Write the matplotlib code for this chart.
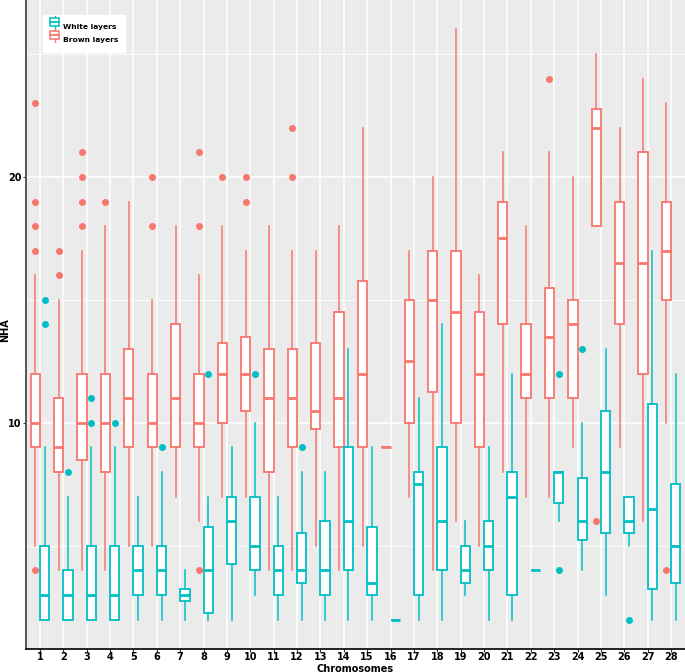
#!/usr/bin/env python3
"""NHA per chromosome for white and brown layers (boxplots, ggplot look)."""

import matplotlib
matplotlib.use("Agg")
import matplotlib.pyplot as plt
from matplotlib.legend_handler import HandlerBase
from matplotlib.lines import Line2D
from matplotlib.patches import Rectangle

CHROMS = list(range(1, 29))

# Brown layers
BROWN_LO = [5, 4, 4, 4, 5, 5, 7, 6, 7, 7, 4, 4, 5, 4, 5, 9, 7, 4, 6, 5, 8, 7, 7, 9, 18, 9, 6, 10]
BROWN_Q1 = [9, 8, 8.5, 8, 9, 9, 9, 9, 10, 10.5, 8, 9, 9.75, 9, 9, 9, 10, 11.25, 10, 9, 14, 11, 11, 11, 18, 14, 12, 15]
BROWN_MED = [10, 9, 10, 10, 11, 10, 11, 10, 12, 12, 11, 11, 10.5, 11, 12, 9, 12.5, 15, 14.5, 12, 17.5, 12, 13.5, 14, 22, 16.5, 16.5, 17]
BROWN_Q3 = [12, 11, 12, 12, 13, 12, 14, 12, 13.25, 13.5, 13, 13, 13.25, 14.5, 15.75, 9, 15, 17, 17, 14.5, 19, 14, 15.5, 15, 22.75, 19, 21, 19]
BROWN_HI = [16, 15, 17, 18, 19, 15, 18, 16, 18, 17, 18, 17, 17, 18, 22, 9, 17, 20, 26, 16, 21, 18, 21, 20, 25, 22, 24, 23]
BROWN_OUT = [[4, 17, 18, 19, 23], [16, 17], [18, 19, 20, 21], [19], [], [18, 20], [],
             [4, 18, 21], [20], [19, 20], [], [20, 22], [], [], [], [], [], [], [], [],
             [], [], [24], [], [6], [], [], [4]]

# White layers
WHITE_LO = [2, 2, 2, 2, 2, 2, 2, 2, 2, 3, 2, 2, 2, 2, 2, 2, 2, 2, 3, 2, 2, 4, 6, 4, 3, 5, 2, 2]
WHITE_Q1 = [2, 2, 2, 2, 3, 3, 2.75, 2.25, 4.25, 4, 3, 3.5, 3, 4, 3, 2, 3, 4, 3.5, 4, 3, 4, 6.75, 5.25, 5.5, 5.5, 3.25, 3.5]
WHITE_MED = [3, 3, 3, 3, 4, 4, 3, 4, 6, 5, 4, 4, 4, 6, 3.5, 2, 7.5, 6, 4, 5, 7, 4, 8, 6, 8, 6, 6.5, 5]
WHITE_Q3 = [5, 4, 5, 5, 5, 5, 3.25, 5.75, 7, 7, 5, 5.5, 6, 9, 5.75, 2, 8, 9, 5, 6, 8, 4, 8, 7.75, 10.5, 7, 10.75, 7.5]
WHITE_HI = [9, 7, 9, 9, 7, 8, 4, 7, 9, 10, 7, 8, 8, 13, 9, 2, 11, 14, 6, 9, 12, 4, 8, 10, 13, 7, 17, 12]
WHITE_OUT = [[14, 15], [8], [10, 11], [10], [], [9], [], [12], [], [12], [], [9], [], [], [],
             [], [], [], [], [], [], [], [4, 12], [13], [], [2], [], []]

GROUPS = [
    ("Brown layers", "#F8766D", -0.2, BROWN_LO, BROWN_Q1, BROWN_MED, BROWN_Q3, BROWN_HI, BROWN_OUT),
    ("White layers", "#00BFC4", 0.2, WHITE_LO, WHITE_Q1, WHITE_MED, WHITE_Q3, WHITE_HI, WHITE_OUT),
]


class BoxKey(HandlerBase):
    def __init__(self, color):
        super().__init__()
        self.color = color

    def create_artists(self, legend, orig, xd, yd, width, height, fontsize, trans):
        cx = xd + width / 2
        w = width * 0.85
        box = Rectangle((cx - w / 2, yd + height * 0.1), w, height * 0.8,
                        facecolor="white", edgecolor=self.color, lw=1.1, transform=trans)
        top = Line2D([cx, cx], [yd + height * 0.9, yd + height * 1.15], color=self.color, lw=0.9, transform=trans)
        bot = Line2D([cx, cx], [yd - height * 0.15, yd + height * 0.1], color=self.color, lw=0.9, transform=trans)
        med = Line2D([cx - w / 2, cx + w / 2], [yd + height * 0.5] * 2, color=self.color, lw=1.3, transform=trans)
        return [top, bot, box, med]


def main():
    fig = plt.figure(figsize=(6.85, 6.72), dpi=100)
    ax = fig.add_axes([26 / 685, 1 - 649 / 672, 1 - 26 / 685, 649 / 672])
    ax.set_facecolor("#EBEBEB")

    handles = {}
    for name, color, off, lo, q1, med, q3, hi, out in GROUPS:
        stats = [
            {"whislo": a, "q1": b, "med": c, "q3": d, "whishi": e, "fliers": f}
            for a, b, c, d, e, f in zip(lo, q1, med, q3, hi, out)
        ]
        pos = [c + off for c in CHROMS]
        ax.bxp(
            stats, positions=pos, widths=0.4, patch_artist=True, showcaps=False,
            boxprops=dict(facecolor="white", edgecolor=color, lw=1.3),
            whiskerprops=dict(color=color, lw=1.1),
            medianprops=dict(color=color, lw=2.0, solid_capstyle="butt"),
            flierprops=dict(marker="o", markersize=4, markerfacecolor=color,
                            markeredgecolor=color, linestyle="none"),
            zorder=3,
        )
        handles[name] = Rectangle((0, 0), 1, 1, color=color)

    ax.set_xlim(0.4, 28.6)
    ax.set_ylim(0.8, 27.2)
    ax.set_xticks(CHROMS)
    ax.set_xticklabels([str(c) for c in CHROMS])
    ax.set_yticks([10, 20])
    ax.set_yticks([5, 15, 25], minor=True)
    ax.grid(which="major", color="white", lw=1.1, zorder=0)
    ax.grid(which="minor", axis="y", color="white", lw=0.6, zorder=0)
    ax.set_axisbelow(True)
    ax.tick_params(axis="both", which="major", labelsize=7, length=2, width=0.8,
                   color="#333333", pad=1)
    ax.tick_params(axis="x", which="major", pad=0.5)
    ax.tick_params(axis="both", which="minor", length=0)
    for lab in ax.get_xticklabels() + ax.get_yticklabels():
        lab.set_fontweight("bold")
    for side in ("top", "right"):
        ax.spines[side].set_visible(False)
    ax.spines["left"].set_color("#555555")
    ax.spines["left"].set_linewidth(1.4)
    ax.spines["bottom"].set_color("black")
    ax.spines["bottom"].set_linewidth(1.2)

    fig.text(0.5 * (1 + 26 / 685), 1 - 668.5 / 672, "Chromosomes", fontsize=7,
             fontweight="bold", ha="center", va="center")
    fig.text(5 / 685, 1 - 330 / 672, "NHA", fontsize=7, fontweight="bold",
             rotation=90, ha="center", va="center")

    names = ["White layers", "Brown layers"]
    colors = {"White layers": "#00BFC4", "Brown layers": "#F8766D"}
    leg = ax.legend(
        [handles[n] for n in names], names,
        handler_map={handles[n]: BoxKey(colors[n]) for n in names},
        loc="upper left", bbox_to_anchor=(0.02, 0.982), frameon=True, fancybox=False,
        edgecolor="white", framealpha=1, prop={"size": 5.4, "weight": "bold"},
        handlelength=1.4, handleheight=1.6, handletextpad=0.4, labelspacing=0.45,
        borderpad=0.9,
    )
    leg.set_zorder(5)

    fig.savefig("out.png", dpi=100)


if __name__ == "__main__":
    main()
